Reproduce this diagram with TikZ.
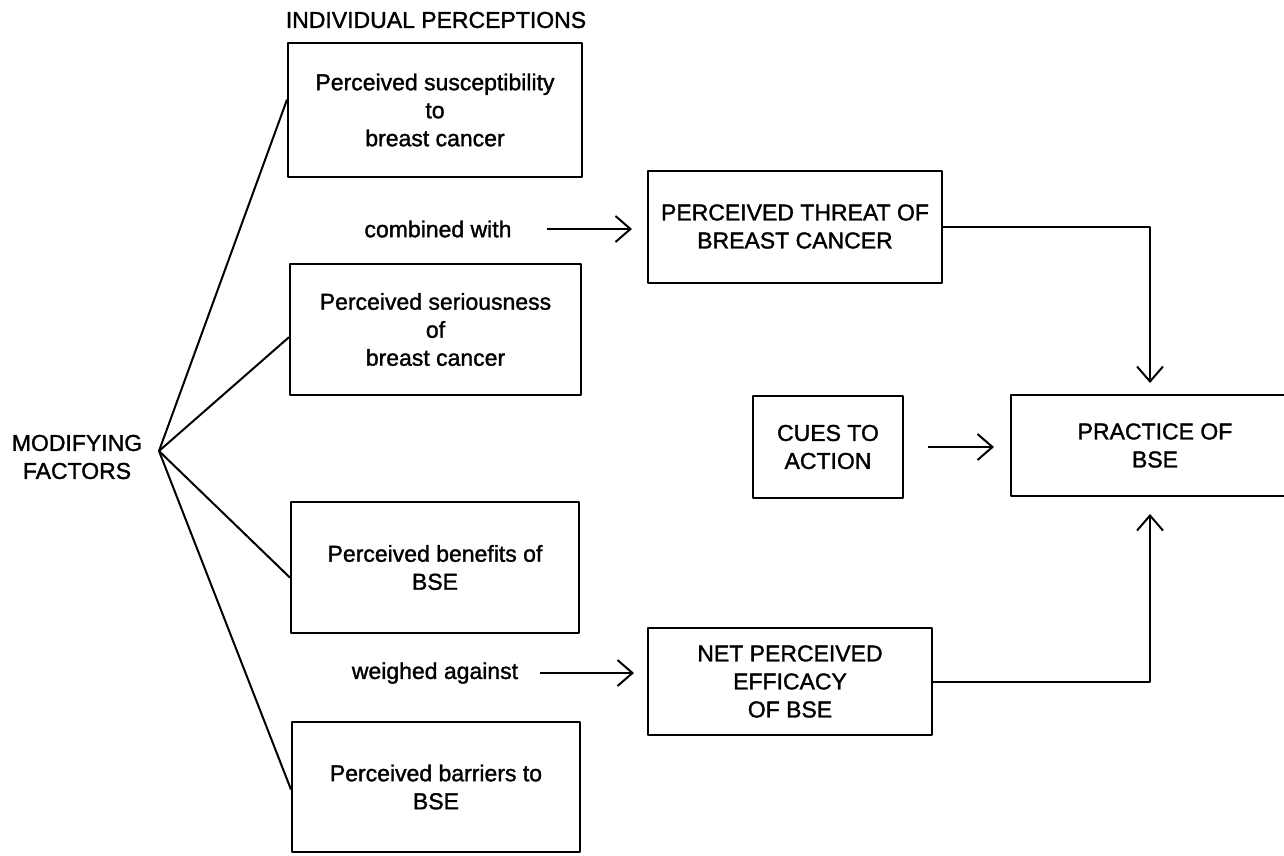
\documentclass[tikz,border=0pt]{standalone}
\usepackage{fontspec}
\setmainfont{Liberation Sans}[FakeBold=1.4]
\usetikzlibrary{arrows.meta}
\tikzset{box/.style={draw, align=center, inner sep=0pt},
         lbl/.style={align=center, inner sep=0pt}}

\begin{document}
\begin{tikzpicture}[x=1pt, y=-1pt, line width=2pt, line join=round,
                    font=\fontsize{23}{28}\selectfont,
                    >={Straight Barb[length=15pt,width=26pt]}]
                    \useasboundingbox (0,0) rectangle (1284,855);
                    % left column
                    \node[lbl] (indiv) at (436,20) {INDIVIDUAL PERCEPTIONS};
                    \node[box, minimum width=294pt, minimum height=134pt] (sus) at (435,110) {Perceived susceptibility\\to\\breast cancer};
                    \node[box, minimum width=291pt, minimum height=131pt] (ser) at (435.5,329.5) {Perceived seriousness\\of\\breast cancer};
                    \node[box, minimum width=288pt, minimum height=131pt] (ben) at (435,567.5) {Perceived benefits of\\BSE};
                    \node[box, minimum width=288pt, minimum height=130pt] (bar) at (436,787) {Perceived barriers to\\BSE};
                    \node[lbl] (comb) at (438,229) {combined with};
                    \node[lbl] (weigh) at (435,673) {weighed against};
                    \node[lbl] (modif) at (77,457) {MODIFYING\\FACTORS};
                    \coordinate (apex) at (159,451);
                    % right part
                    \node[box, minimum width=294pt, minimum height=112pt] (threat) at (795,226.5) {PERCEIVED THREAT OF\\BREAST CANCER};
                    \node[box, minimum width=284pt, minimum height=107pt] (net) at (790,681.5) {NET PERCEIVED\\EFFICACY\\OF BSE};
                    \node[box, minimum width=150pt, minimum height=102pt] (cues) at (828,447) {CUES TO\\ACTION};
                    \node[box, minimum width=288pt, minimum height=101pt] (practice) at (1155,445.5) {PRACTICE OF\\BSE};
                    % connectors
                    \foreach \b/\a in {sus/176, ser/183, ben/184, bar/181}
                    \draw (apex) -- (\b.\a);
                    \draw[->, shorten >=15pt] ([xshift=34pt]comb.east) -- (threat.west |- comb.east);
                    \draw[->, shorten >=13pt] ([xshift=21pt]weigh.east) -- (net.west |- weigh.east);
                    \draw[->, shorten >=16pt] ([xshift=24pt]cues.east) -- (practice.west |- cues.east);
                    \draw[->, shorten >=11pt] (threat.east) -| ([xshift=-5pt]practice.north);
                    \draw[->, shorten >=17pt] (net.east) -| ([xshift=-5pt]practice.south);
            \end{tikzpicture}
\end{document}
